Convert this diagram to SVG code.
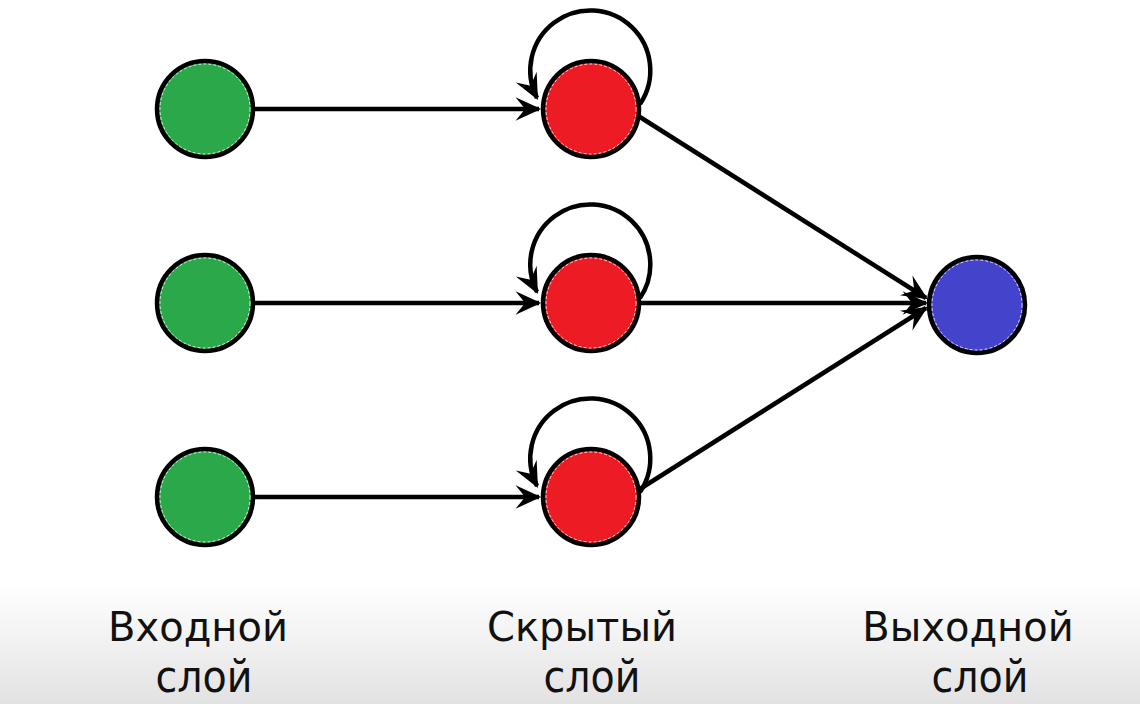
<svg xmlns="http://www.w3.org/2000/svg" width="1140" height="704" viewBox="0 0 1140 704">
<defs>
<linearGradient id="bg" x1="0" y1="0" x2="0" y2="1">
<stop offset="0" stop-color="#ffffff"/>
<stop offset="1" stop-color="#e2e2e2"/>
</linearGradient>
<marker id="arr" markerUnits="userSpaceOnUse" markerWidth="32" markerHeight="32" viewBox="-26 -13 30 26" refX="0" refY="0" orient="auto">
<path d="M2,0 L-22,-11 L-13,0 L-22,11 Z" fill="#000"/>
</marker>
<style>
.edge{fill:none;stroke:#000;stroke-width:4.5;marker-end:url(#arr)}
.node{stroke:#000;stroke-width:4.5}
.inner{fill:none;stroke:#fff;stroke-width:1;stroke-dasharray:3 2;opacity:0.8}
.in{fill:#2aa84a}
.hid{fill:#ed1c24}
.out{fill:#4343cc}
.lbl{font-family:"DejaVu Sans",sans-serif;font-size:40px;fill:#111;text-anchor:middle}
.lbl2{font-family:"DejaVu Sans Condensed","DejaVu Sans",sans-serif;font-stretch:condensed;font-size:44px;fill:#111;text-anchor:middle}
</style>
</defs>
<rect width="1140" height="704" fill="#fff"/>
<rect y="585" width="1140" height="119" fill="url(#bg)"/>
<g id="connectors">
<path class="edge" d="M245,109 L539,109"/>
<path class="edge" d="M245,303 L539,303"/>
<path class="edge" d="M245,497 L539,497"/>
<path class="edge" d="M640,104 A60,60 0 1 0 537,98"/>
<path class="edge" d="M640,298 A60,60 0 1 0 537,292"/>
<path class="edge" d="M640,492 A60,60 0 1 0 537,486"/>
<path class="edge" d="M632,112 L926,298"/>
<path class="edge" d="M632,303 L926,303"/>
<path class="edge" d="M632,494 L926,308"/>
</g>
<g id="input1"><circle class="node in" cx="205" cy="109" r="48"/><circle class="inner" cx="205" cy="109" r="45"/></g>
<g id="input2"><circle class="node in" cx="205" cy="303" r="48"/><circle class="inner" cx="205" cy="303" r="45"/></g>
<g id="input3"><circle class="node in" cx="205" cy="497" r="48"/><circle class="inner" cx="205" cy="497" r="45"/></g>
<g id="hidden1"><circle class="node hid" cx="591" cy="109" r="48"/><circle class="inner" cx="591" cy="109" r="45"/></g>
<g id="hidden2"><circle class="node hid" cx="591" cy="303" r="48"/><circle class="inner" cx="591" cy="303" r="45"/></g>
<g id="hidden3"><circle class="node hid" cx="591" cy="497" r="48"/><circle class="inner" cx="591" cy="497" r="45"/></g>
<g id="output"><circle class="node out" cx="977" cy="305" r="48"/><circle class="inner" cx="977" cy="305" r="45"/></g>
<g id="labels">
<text class="lbl" x="198" y="641">Входной</text>
<text class="lbl2" x="204" y="692">слой</text>
<text class="lbl" x="582" y="641">Скрытый</text>
<text class="lbl2" x="592" y="692">слой</text>
<text class="lbl" x="968" y="641">Выходной</text>
<text class="lbl2" x="980" y="692">слой</text>
</g>
</svg>
